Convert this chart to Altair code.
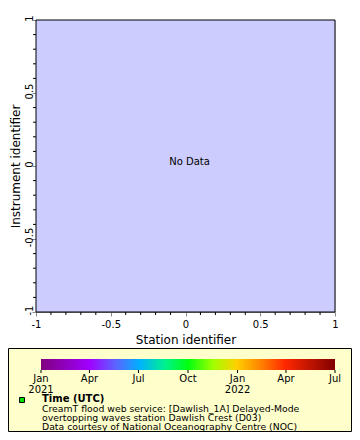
import altair as alt
import pandas as pd

# ---------------- data ----------------
x_label = "Station identifier"
y_label = "Instrument identifier"
axis_domain = [-1, 1]
major_ticks = [-1, -0.5, 0, 0.5, 1]
minor_ticks = [-0.9, -0.8, -0.7, -0.6, -0.4, -0.3, -0.2, -0.1,
               0.1, 0.2, 0.3, 0.4, 0.6, 0.7, 0.8, 0.9]
no_data_text = ["No Data"]

time_start = "2021-01-01"
time_end = "2022-07-01"
time_ticks = ["2021-01-01", "2021-04-01", "2021-07-01", "2021-10-01",
              "2022-01-01", "2022-04-01", "2022-07-01"]
time_tick_labels = ["Jan\n2021", "Apr", "Jul", "Oct", "Jan\n2022", "Apr", "Jul"]
legend_title = ["Time (UTC)"]
legend_lines = [
    "CreamT flood web service: [Dawlish_1A] Delayed-Mode",
    "overtopping waves station Dawlish Crest (D03)",
    "Data courtesy of National Oceanography Centre (NOC)",
]
rainbow_stops = [
    (0.0, "#800080"), (0.165, "#a000ff"), (0.25, "#6060ff"),
    (0.335, "#00b0ff"), (0.42, "#00f090"), (0.5, "#00ff10"),
    (0.585, "#a0ff00"), (0.665, "#ffd000"), (0.75, "#ff8000"),
    (0.83, "#ff2800"), (1.0, "#800000"),
]

# ---------------- layout ----------------
W, H = 299, 292
PAD = {"left": 28, "top": 12, "right": 17, "bottom": 120}
FONT = "DejaVu Sans"

xscale = alt.Scale(domain=axis_domain, nice=False, zero=False)
yscale = alt.Scale(domain=axis_domain, nice=False, zero=False)

x_axis = alt.Axis(values=major_ticks, labelExpr="datum.value + ''", title=x_label,
                  tickSize=4, labelPadding=3, titlePadding=5, labelFontSize=10,
                  titleFontSize=12, titleFontWeight="normal", grid=False,
                  labelFlush=False, labelAngle=0)
y_axis = alt.Axis(values=major_ticks, labelExpr="datum.value + ''", title=y_label,
                  tickSize=4, labelPadding=0, titlePadding=2, labelFontSize=10,
                  titleFontSize=12, titleFontWeight="normal", grid=False,
                  labelFlush=False, labelAngle=270, labelAlign="center",
                  labelBaseline="alphabetic", labelOffset=-2)

one = pd.DataFrame({"a": [0]})

plot_bg = alt.Chart(one).mark_rect(fill="#ccccff", stroke="black", strokeWidth=1).encode(
    x=alt.value(0), x2=alt.value(W), y=alt.value(0), y2=alt.value(H),
)

nodata = alt.Chart(pd.DataFrame({"x": [0], "y": [0], "label": no_data_text})).mark_text(
    fontSize=10, dx=4, dy=-4, font=FONT, color="black"
).encode(
    x=alt.X("x:Q", scale=xscale, axis=x_axis),
    y=alt.Y("y:Q", scale=yscale, axis=y_axis),
    text="label:N",
)

minor_x = alt.Chart(pd.DataFrame({"x": minor_ticks})).mark_rule(color="black").encode(
    x=alt.X("x:Q", scale=xscale, axis=x_axis),
    y=alt.value(H),
    y2=alt.value(H + 3),
)

minor_y = alt.Chart(pd.DataFrame({"y": minor_ticks})).mark_rule(color="black").encode(
    y=alt.Y("y:Q", scale=yscale, axis=y_axis),
    x=alt.value(0),
    x2=alt.value(-3),
)

main = alt.layer(plot_bg, nodata, minor_x, minor_y)

# ---------------- legend ----------------
t0 = int(pd.Timestamp(time_start, tz="UTC").value // 10**6)
t1 = int(pd.Timestamp(time_end, tz="UTC").value // 10**6)
tscale = alt.Scale(type="utc", domain=[t0, t1], range=[5, W], nice=False)

box = alt.Chart(one).mark_rect(fill="#ffffcc", stroke="black", strokeWidth=1).encode(
    x=alt.value(-27.5), x2=alt.value(W + PAD["right"] - 0.5),
    y=alt.value(328.5), y2=alt.value(H + PAD["bottom"] - 0.5),
)

gradient = alt.Gradient(
    gradient="linear", x1=0, x2=1, y1=0, y2=0,
    stops=[alt.GradientStop(offset=o, color=c) for o, c in rainbow_stops],
)

colorbar = alt.Chart(pd.DataFrame({"t": [time_start], "t_end": [time_end]})).mark_rect(
    fill=gradient
).encode(
    x=alt.X("t:T", scale=tscale, axis=None),
    x2=alt.X2("t_end:T"),
    y=alt.value(339), y2=alt.value(350),
)

cticks = alt.Chart(pd.DataFrame({"t": time_ticks})).mark_rule(color="black").encode(
    x=alt.X("t:T", scale=tscale, axis=None),
    y=alt.value(350), y2=alt.value(353),
)

clabels = alt.Chart(pd.DataFrame({"t": time_ticks, "label": time_tick_labels})).mark_text(
    baseline="top", align="center", lineBreak="\n", fontSize=10, lineHeight=11,
    font=FONT, color="black"
).encode(
    x=alt.X("t:T", scale=tscale, axis=None),
    y=alt.value(353.5),
    text="label:N",
)

square = alt.Chart(one).mark_rect(fill="#00e000", stroke="black", strokeWidth=1).encode(
    x=alt.value(-16.5), x2=alt.value(-11.5),
    y=alt.value(377.5), y2=alt.value(382.5),
)

ltitle = alt.Chart(pd.DataFrame({"text": legend_title})).mark_text(
    align="left", baseline="middle", fontSize=10, fontWeight="bold", font=FONT, color="black"
).encode(x=alt.value(6), y=alt.value(379), text="text:N")

llines = alt.Chart(pd.DataFrame({"text": ["\n".join(legend_lines)]})).mark_text(
    align="left", baseline="top", lineBreak="\n", fontSize=9.3, lineHeight=9.1,
    font=FONT, color="black"
).encode(x=alt.value(6), y=alt.value(384.5), text="text:N")

legend = alt.layer(box, colorbar, cticks, clabels, square, ltitle, llines)

chart = alt.layer(main, legend).resolve_scale(x="independent").properties(
    width=W, height=H,
    padding=PAD,
    autosize=alt.AutoSizeParams(type="none"),
).configure_view(
    stroke=None
).configure_axis(
    domainColor="black", tickColor="black", labelColor="black", titleColor="black",
    labelFont=FONT, titleFont=FONT,
).configure(font=FONT)

chart.save("out.html", embed_options={"renderer": "svg", "actions": False})
